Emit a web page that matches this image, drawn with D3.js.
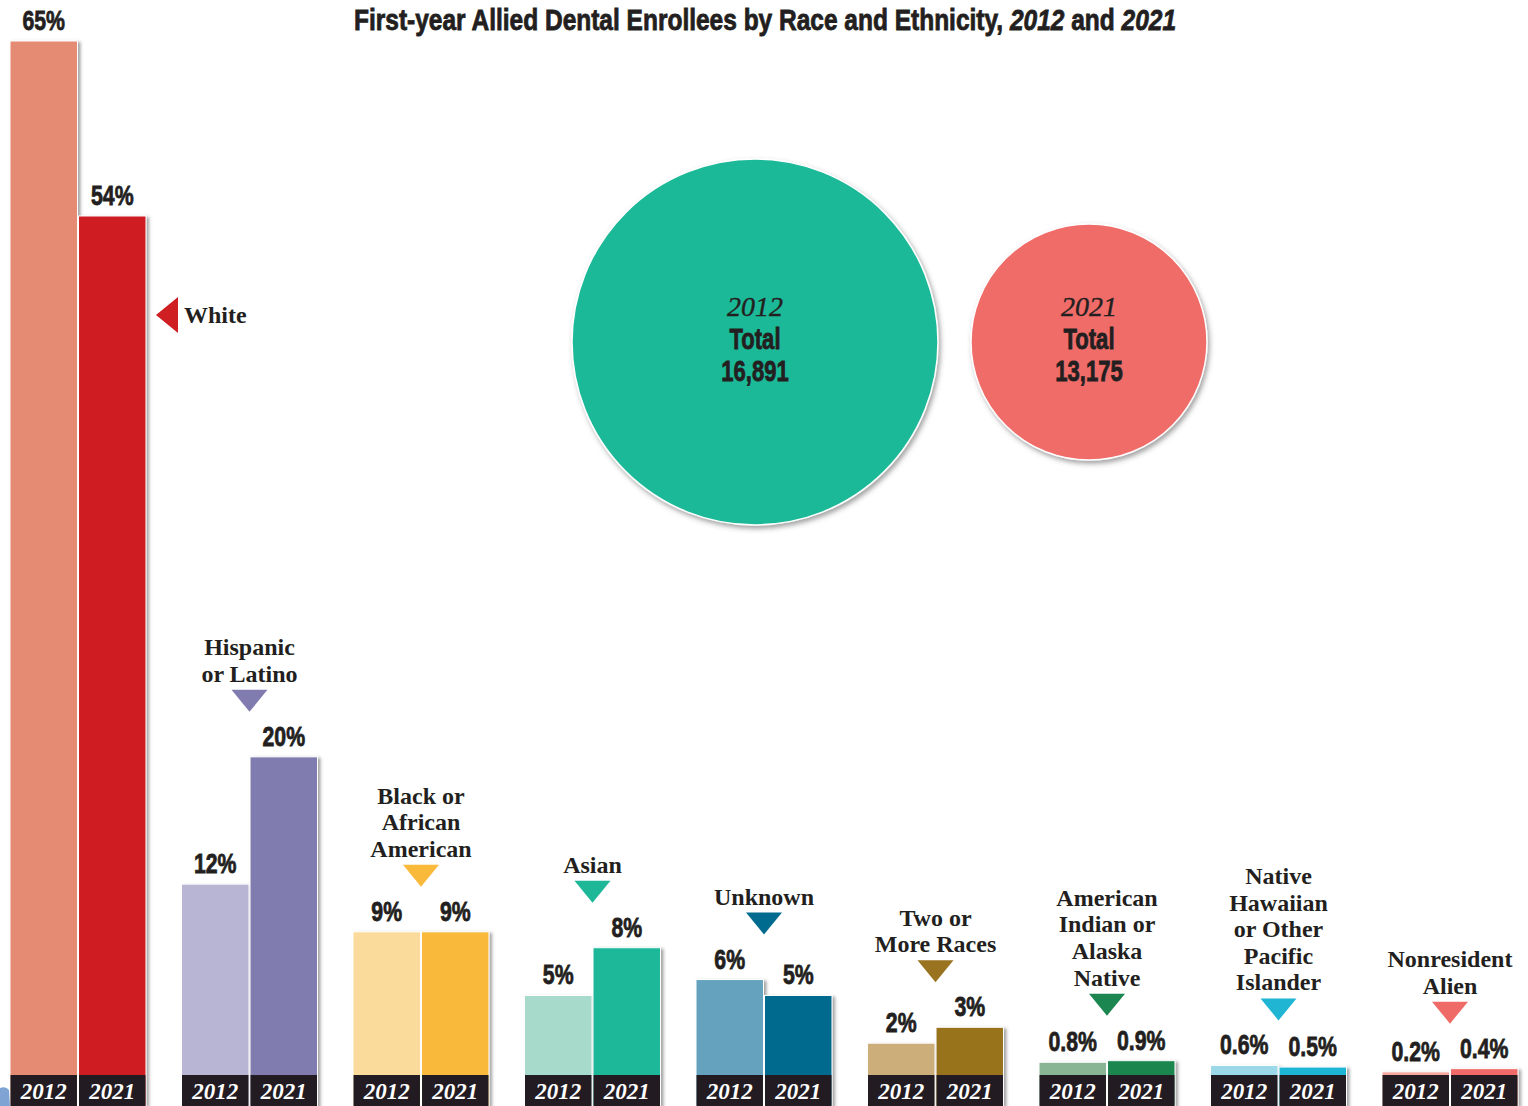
<!DOCTYPE html>
<html>
<head>
<meta charset="utf-8">
<script src="https://cdn.jsdelivr.net/npm/d3@7"></script>
<style>
  html, body { margin: 0; padding: 0; background: #fff; }
  svg { display: block; }
  .cond { font-family: "Liberation Sans", Arial, sans-serif; font-weight: bold;
          stroke: #231f20; stroke-width: 0.8px; paint-order: stroke; }
  .serif { font-family: "Liberation Serif", "Times New Roman", serif; }
</style>
</head>
<body>
<svg id="chart" width="1528" height="1106"></svg>
<script>
// Race / ethnicity categories, in display order
const categories = ["White", "Hispanic or Latino", "Black or African American", "Asian", "Unknown",
  "Two or More Races", "American Indian or Alaska Native", "Native Hawaiian or Other Pacific Islander",
  "Nonresident Alien"];
const categoryLines = [
  ["White"],
  ["Hispanic", "or Latino"],
  ["Black or", "African", "American"],
  ["Asian"],
  ["Unknown"],
  ["Two or", "More Races"],
  ["American", "Indian or", "Alaska", "Native"],
  ["Native", "Hawaiian", "or Other", "Pacific", "Islander"],
  ["Nonresident", "Alien"]
];
const years = ["2012", "2021"];
// Share of first-year enrollees (%)
const values2012 = [65, 12, 9, 5, 6, 2, 0.8, 0.6, 0.2];
const values2021 = [54, 20, 9, 8, 5, 3, 0.9, 0.5, 0.4];
const valueLabels2012 = ["65%", "12%", "9%", "5%", "6%", "2%", "0.8%", "0.6%", "0.2%"];
const valueLabels2021 = ["54%", "20%", "9%", "8%", "5%", "3%", "0.9%", "0.5%", "0.4%"];
const colors2012 = ["#e58b73", "#b8b4d4", "#fbdb9b", "#a7dacb", "#65a2bd", "#cbae7a", "#89b594", "#9bd8e8", "#f7a7a1"];
const colors2021 = ["#cf1f22", "#817caf", "#f9b93a", "#1eb899", "#006b8e", "#99731f", "#1c8650", "#1fb5d3", "#ef6b67"];
// Total enrollees
const totalYears = ["2012", "2021"];
const totals = [16891, 13175];
const totalColors = ["#1eb999", "#f06c69"];

const baseline = 1075, boxH = 31;
const narrow = 0.76;   // horizontal squeeze for the condensed sans labels
const svg = d3.select("#chart");

const defs = svg.append("defs");
const shadow = defs.append("filter").attr("id", "shadow")
  .attr("x", "-10%").attr("y", "-10%").attr("width", "130%").attr("height", "130%");
shadow.append("feDropShadow").attr("dx", 2.5).attr("dy", 1.5).attr("stdDeviation", 1.6)
  .attr("flood-color", "#555").attr("flood-opacity", 0.55);
const cshadow = defs.append("filter").attr("id", "cshadow")
  .attr("x", "-10%").attr("y", "-10%").attr("width", "130%").attr("height", "130%");
cshadow.append("feDropShadow").attr("dx", 2).attr("dy", 3).attr("stdDeviation", 2.5)
  .attr("flood-color", "#444").attr("flood-opacity", 0.5);

// Scales
const x = d3.scaleBand().domain(categories).range([10, 1518]).paddingInner(0.207).paddingOuter(0);
const xYear = d3.scaleBand().domain(years).range([0, x.bandwidth()]).paddingInner(0.015);
const y = d3.scaleLinear().domain([0, 65]).range([baseline, 41]);
const r = d3.scaleLinear().domain([13175, 16891]).range([118, 183]);

// Title
const title = svg.append("text").attr("class", "cond")
  .attr("transform", `translate(765,30) scale(0.845,1)`)
  .attr("text-anchor", "middle").attr("font-size", 29).attr("fill", "#231f20");
title.append("tspan").text("First-year Allied Dental Enrollees by Race and Ethnicity, ");
title.append("tspan").attr("font-style", "italic").text("2012");
title.append("tspan").text(" and ");
title.append("tspan").attr("font-style", "italic").text("2021");

// Total circles
const circleX = [755, 1089];
const cg = svg.append("g").selectAll("g").data(totals).join("g")
  .attr("transform", (d, i) => `translate(${circleX[i]},342)`);
cg.append("circle").attr("r", d => r(d)).attr("fill", (d, i) => totalColors[i])
  .attr("stroke", "#fff").attr("stroke-width", 1.5).attr("filter", "url(#cshadow)");
cg.append("text").attr("class", "serif").attr("y", -26).attr("text-anchor", "middle")
  .attr("font-size", 28).attr("font-style", "italic").attr("fill", "#231f20")
  .attr("stroke", "#231f20").attr("stroke-width", 0.4)
  .text((d, i) => totalYears[i]);
cg.append("text").attr("class", "cond").attr("transform", `translate(0,7) scale(${narrow},1)`)
  .attr("text-anchor", "middle").attr("font-size", 29).attr("fill", "#231f20").text("Total");
cg.append("text").attr("class", "cond").attr("transform", `translate(0,39) scale(${narrow},1)`)
  .attr("text-anchor", "middle").attr("font-size", 29).attr("fill", "#231f20")
  .text(d => d3.format(",")(d));

// Bars
const rows = categories.map((c, i) => ({
  cat: c, i,
  bars: [
    { year: "2012", v: values2012[i], label: valueLabels2012[i], color: colors2012[i] },
    { year: "2021", v: values2021[i], label: valueLabels2021[i], color: colors2021[i] }
  ]
}));

const groups = svg.append("g").selectAll("g").data(rows).join("g")
  .attr("transform", d => `translate(${x(d.cat)},0)`);

const bar = groups.selectAll("g.bar").data(d => d.bars).join("g").attr("class", "bar")
  .attr("filter", "url(#shadow)");
bar.append("rect")
  .attr("x", d => xYear(d.year)).attr("width", xYear.bandwidth())
  .attr("y", d => y(d.v)).attr("height", d => baseline + boxH - y(d.v))
  .attr("fill", d => d.color).attr("stroke", "#fff").attr("stroke-width", 1);
bar.append("rect")
  .attr("x", d => xYear(d.year) + 0.5).attr("width", xYear.bandwidth() - 1)
  .attr("y", baseline).attr("height", boxH)
  .attr("fill", "#231f20");

groups.selectAll("text.yr").data(d => d.bars).join("text").attr("class", "yr serif")
  .attr("x", d => xYear(d.year) + xYear.bandwidth() / 2).attr("y", baseline + 24)
  .attr("text-anchor", "middle").attr("font-size", 23).attr("font-style", "italic")
  .attr("font-weight", "bold").attr("fill", "#fff").text(d => d.year);

groups.selectAll("text.val").data(d => d.bars).join("text").attr("class", "val cond")
  .attr("transform", d => `translate(${xYear(d.year) + xYear.bandwidth() / 2},${y(d.v) - 11}) scale(${narrow},1)`)
  .attr("text-anchor", "middle").attr("font-size", 28).attr("fill", "#231f20")
  .text(d => d.label);

// Category labels with pointer triangles
const lineH = 26.6;
groups.each(function (d) {
  const g = d3.select(this);
  const cx = x.bandwidth() / 2;
  const lines = categoryLines[d.i];
  const col = colors2021[d.i];
  if (d.i === 0) {
    // side label beside the tallest bar
    const tx = x.bandwidth() + 10, ty = 315;
    g.append("path").attr("d", `M${tx},${ty} L${tx + 22},${ty - 18} L${tx + 22},${ty + 18} Z`).attr("fill", col);
    g.append("text").attr("class", "serif").attr("x", tx + 28).attr("y", ty + 8)
      .attr("font-size", 24).attr("font-weight", "bold").attr("fill", "#231f20").text(lines[0]);
    return;
  }
  const top = Math.min(y(values2012[d.i]), y(values2021[d.i]));
  const triBottom = top - 45, triTop = triBottom - 22;
  g.append("path").attr("d", `M${cx - 18},${triTop} L${cx + 18},${triTop} L${cx},${triBottom} Z`).attr("fill", col);
  const lastBase = triTop - 8;
  g.append("text").attr("class", "serif").attr("text-anchor", "middle")
    .attr("font-size", 24).attr("font-weight", "bold").attr("fill", "#231f20")
    .selectAll("tspan").data(lines).join("tspan")
    .attr("x", cx).attr("y", (t, k) => lastBase - (lines.length - 1 - k) * lineH)
    .text(t => t);
});

// Small blue shape peeking in at the lower left corner
svg.append("path").attr("d", "M0,1106 L0,1088 Q6,1086 9,1090 L10,1106 Z").attr("fill", "#7fa3d3");
</script>
</body>
</html>
